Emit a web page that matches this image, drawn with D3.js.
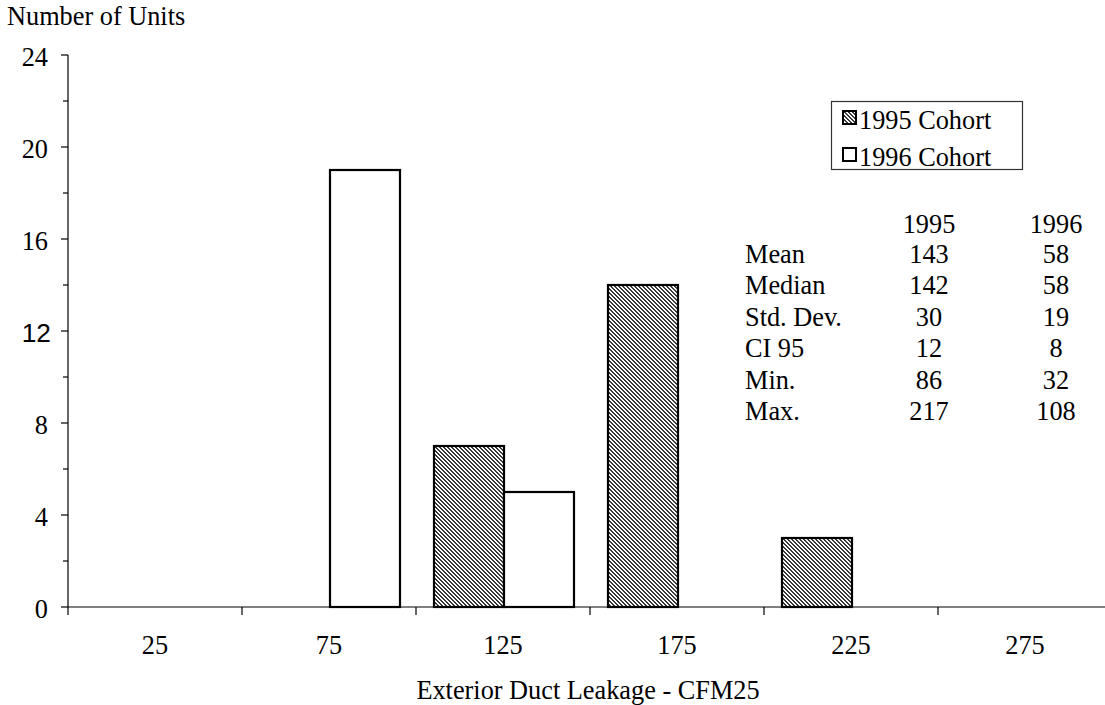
<!DOCTYPE html>
<html>
<head>
<meta charset="utf-8">
<script src="https://cdn.jsdelivr.net/npm/d3@7"></script>
<style>
  html, body { margin: 0; padding: 0; background: #fff; }
  svg text { font-family: "Liberation Serif", "Times New Roman", serif; fill: #000; }
</style>
</head>
<body>
<svg id="chart" width="1105" height="705"></svg>
<script>
const categories = ["25", "75", "125", "175", "225", "275"];
const seriesNames = ["1995 Cohort", "1996 Cohort"];
const values1995 = [0, 0, 7, 14, 3, 0];
const values1996 = [0, 19, 5, 0, 0, 0];
const yTicks = [0, 4, 8, 12, 16, 20, 24];
const yMinorTicks = [2, 6, 10, 14, 18, 22];
const statLabels = ["Mean", "Median", "Std. Dev.", "CI 95", "Min.", "Max."];
const statHeaders = ["1995", "1996"];
const stats1995 = [143, 142, 30, 12, 86, 217];
const stats1996 = [58, 58, 19, 8, 32, 108];

const svg = d3.select("#chart");
const fontSize = 26.3;

// hatch pattern
const defs = svg.append("defs");
const pat = defs.append("pattern").attr("id", "hatch")
  .attr("patternUnits", "userSpaceOnUse").attr("width", 4).attr("height", 4);
pat.append("rect").attr("width", 4).attr("height", 4).attr("fill", "#fff");
[[0,0],[1,1],[2,2],[3,3],[1,0],[2,1],[3,2],[0,3]].forEach(([px,py]) => {
  pat.append("rect").attr("x", px).attr("y", py).attr("width", 1).attr("height", 1).attr("fill", "#3a3a3a");
});

const x = d3.scaleBand().domain(categories).range([68, 1112]).paddingInner(0).paddingOuter(0);
const inner = d3.scaleBand().domain(seriesNames).range([17, x.bandwidth() - 17]).padding(0);
const y = d3.scaleLinear().domain([0, 24]).range([607, 55]);

// x axis (drawn first so bar outlines sit on top)
const xAxis = svg.append("g");
xAxis.append("line").attr("x1", 68).attr("x2", 1112).attr("y1", y(0)).attr("y2", y(0))
  .attr("stroke", "#808080").attr("stroke-width", 2);
xAxis.selectAll(".tk").data(categories.slice(1).concat(["end"])).join("line")
  .attr("x1", (d, i) => 68 + (i + 1) * x.bandwidth()).attr("x2", (d, i) => 68 + (i + 1) * x.bandwidth())
  .attr("y1", y(0)).attr("y2", y(0) + 8)
  .attr("stroke", "#000").attr("stroke-width", 1.2);
xAxis.selectAll("text").data(categories).join("text")
  .attr("x", d => x(d) + x.bandwidth() / 2)
  .attr("y", 654)
  .attr("text-anchor", "middle")
  .style("font-size", fontSize + "px")
  .text(d => d);

// y axis
const yAxis = svg.append("g").attr("transform", "translate(68,0)");
yAxis.append("line").attr("x1", 0).attr("x2", 0).attr("y1", y(24)).attr("y2", y(0) + 8)
  .attr("stroke", "#000").attr("stroke-width", 1.2);
yAxis.selectAll(".maj").data(yTicks).join("line")
  .attr("x1", -7).attr("x2", 0).attr("y1", d => y(d)).attr("y2", d => y(d))
  .attr("stroke", "#000").attr("stroke-width", 1.2);
yAxis.selectAll(".min").data(yMinorTicks).join("line")
  .attr("x1", -5).attr("x2", 0).attr("y1", d => y(d)).attr("y2", d => y(d))
  .attr("stroke", "#000").attr("stroke-width", 1.2);
yAxis.selectAll("text").data(yTicks).join("text")
  .attr("x", d => d === 12 ? -17 : -20)
  .attr("y", d => y(d) + 1.5)
  .attr("dy", "0.35em")
  .attr("text-anchor", "end")
  .style("font-size", fontSize + "px")
  .style("font-family", d => d === 12 ? "'Liberation Sans', Arial, sans-serif" : null)
  .text(d => d);

// bars
const data = [];
categories.forEach((c, i) => {
  data.push({cat: c, s: seriesNames[0], v: values1995[i]});
  data.push({cat: c, s: seriesNames[1], v: values1996[i]});
});
svg.append("g").selectAll("rect").data(data.filter(d => d.v > 0)).join("rect")
  .attr("x", d => x(d.cat) + inner(d.s) + 1)
  .attr("y", d => y(d.v))
  .attr("width", inner.bandwidth())
  .attr("height", d => y(0) - y(d.v))
  .attr("fill", d => d.s === seriesNames[0] ? "url(#hatch)" : "#fff")
  .attr("stroke", "#000").attr("stroke-width", 2.2);

// titles
svg.append("text").attr("x", 7).attr("y", 25).style("font-size", fontSize + "px").text("Number of Units");
svg.append("text").attr("x", 588).attr("y", 699).attr("text-anchor", "middle")
  .style("font-size", fontSize + "px").text("Exterior Duct Leakage - CFM25");

// legend
const lg = svg.append("g");
lg.append("rect").attr("x", 831.5).attr("y", 101.5).attr("width", 191).attr("height", 68)
  .attr("fill", "#fff").attr("stroke", "#333").attr("stroke-width", 1.2);
seriesNames.forEach((s, i) => {
  const yy = 111 + i * 37;
  lg.append("rect").attr("x", 843).attr("y", yy).attr("width", 13).attr("height", 13)
    .attr("fill", i === 0 ? "url(#hatch)" : "#fff").attr("stroke", "#000").attr("stroke-width", 2);
  lg.append("text").attr("x", 859).attr("y", yy + 18).style("font-size", fontSize + "px").text(s);
});

// stats table
const st = svg.append("g");
const colX = [929, 1056];
statHeaders.forEach((h, i) => {
  st.append("text").attr("x", colX[i]).attr("y", 233).attr("text-anchor", "middle")
    .style("font-size", fontSize + "px").text(h);
});
statLabels.forEach((l, i) => {
  const yy = 263 + i * 31.4;
  st.append("text").attr("x", 745).attr("y", yy).style("font-size", fontSize + "px").text(l);
  st.append("text").attr("x", colX[0]).attr("y", yy).attr("text-anchor", "middle")
    .style("font-size", fontSize + "px").text(stats1995[i]);
  st.append("text").attr("x", colX[1]).attr("y", yy).attr("text-anchor", "middle")
    .style("font-size", fontSize + "px").text(stats1996[i]);
});
</script>
</body>
</html>
